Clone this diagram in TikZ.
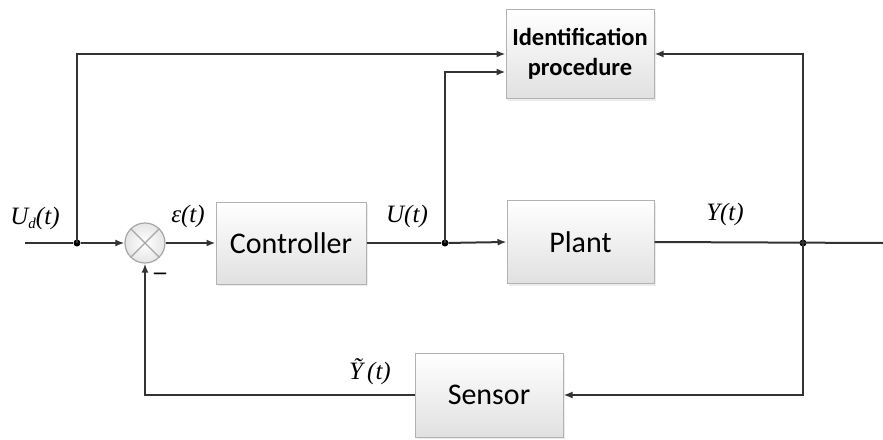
\documentclass[tikz,border=0pt]{standalone}
\usepackage{fontspec}
\setmainfont{Liberation Serif}
\newfontfamily\boxfont{Carlito}
\usetikzlibrary{positioning}
\usetikzlibrary{arrows.meta}
\usetikzlibrary{shadows}

\begin{document}
\begin{tikzpicture}[x=1pt, y=-1pt, >={Latex[length=9pt,width=7pt]},
line/.style={draw=black!80, line width=2pt},
block/.style={rectangle, draw=black!30, line width=1pt, top color=white, bottom color=black!12,
  drop shadow={opacity=0.15, shadow xshift=2pt, shadow yshift=-2pt},
  font=\boxfont\fontsize{30}{34}\selectfont, align=center, minimum width=148pt},
lbl/.style={font=\fontsize{25}{28}\selectfont\itshape, inner sep=0pt},
dot/.style={circle, fill=black, inner sep=0pt, minimum size=7pt}]

\useasboundingbox (0,0) rectangle (883,439);

% blocks
\node [block, minimum height=89pt, font=\boxfont\bfseries\fontsize{24.5}{30}\selectfont] (ident) at (580,54) {Identification\\procedure};
\node [block, minimum width=150pt, minimum height=82pt] (ctrl) at (291,243) {Controller};
\node [block, minimum width=147pt, minimum height=83pt] (plant) at (580.5,242) {Plant};
\node [block, minimum height=84pt] (sensor) at (489,395) {Sensor};

% summing junction
\node [circle, draw=black!35, line width=1.2pt, inner color=white, outer color=black!10, minimum size=40pt, inner sep=0pt] (sum) at (145,243) {};
\draw [black!35, line width=1.2pt] (sum.45) -- (sum.225) (sum.135) -- (sum.315);

% branch points
\coordinate (in) at (25,243);
\node [dot] (d1) at (77,243) {};
\node [dot] (d2) at (445,243) {};
\node [dot] (d3) at (803,243) {};
\coordinate (out) at (883,243);

% signals
\draw [line] (in) -- (d1);
\draw [line, ->] (d1) -- (sum.west);
\draw [line, ->] (d1.center) |- (ident.west);
\draw [line, ->] (sum.east) -- (ctrl.west);
\draw [line] (ctrl.east) -- (d2);
\draw [line, ->] (d2) -- (plant.west);
\draw [line, ->] (d2.center) |- ([yshift=-18pt]ident.west);
\draw [line] (plant.east) -- (out);
\draw [line, ->] (d3.center) |- (ident.east);
\draw [line, ->] (d3.center) |- (sensor.east);
\draw [line, ->] (sensor.west) -| (sum.south);

% labels
\node [lbl] (ud) at (35,218) {U\raisebox{-4pt}{\fontsize{15}{16}\selectfont d}(t)};
\node [lbl] (eps) at (188,216) {ε(t)};
\node [lbl] (u) at (407,216) {U(t)};
\node [lbl] (y) at (725,214) {Y(t)};
\node [lbl] (yt) at (370,372) {\~{Y}\,(t)};
\node [font=\fontsize{24}{28}\selectfont\bfseries, inner sep=0pt] (minus) at (160,276) {–};

\end{tikzpicture}
\end{document}
